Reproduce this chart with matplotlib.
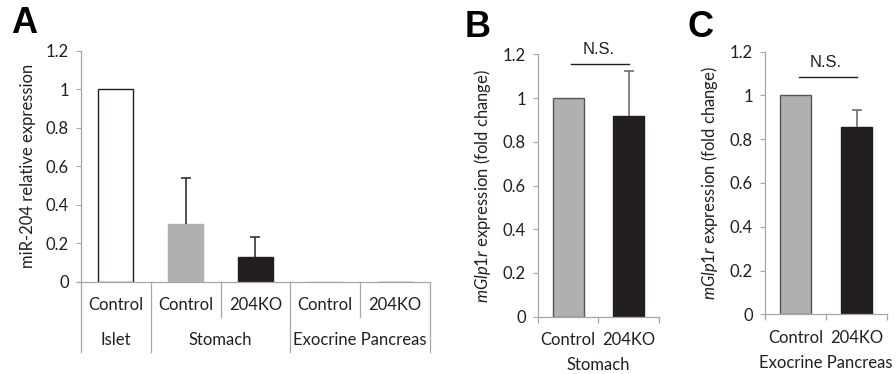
import matplotlib
matplotlib.use("Agg")
import matplotlib.pyplot as plt
import matplotlib.transforms as mtransforms

plt.rcParams['font.family'] = ['Lato', 'DejaVu Sans']
plt.rcParams['mathtext.fontset'] = 'custom'
plt.rcParams['mathtext.it'] = 'Lato:italic'
plt.rcParams['mathtext.rm'] = 'Lato'

# ---- data ----
a_groups = ["Islet", "Stomach", "Exocrine Pancreas"]
a_cats = ["Control", "Control", "204KO", "Control", "204KO"]
a_vals = [1.0, 0.30, 0.127, 0.001, 0.001]
a_errs = [0.0, 0.237, 0.107, 0.0, 0.0]

b_cats = ["Control", "204KO"]
b_vals = [1.0, 0.92]
b_errs = [0.0, 0.205]
b_group = "Stomach"
b_sig = 1.154

c_cats = ["Control", "204KO"]
c_vals = [1.0, 0.856]
c_errs = [0.0, 0.078]
c_group = "Exocrine Pancreas"
c_sig = 1.083

yticks = [0, 0.2, 0.4, 0.6, 0.8, 1.0, 1.2]
yticklabels = ["0", "0.2", "0.4", "0.6", "0.8", "1", "1.2"]

GRAY = "#b0b0b0"
BLACK = "#231f20"
SPINE = "#a6a6a6"
TXT = "#231f20"
FS = 12

fig = plt.figure(figsize=(8.96, 3.74), dpi=100)

def style_y(ax):
    ax.set_ylim(0, 1.2)
    ax.set_yticks(yticks)
    ax.set_yticklabels(yticklabels, fontsize=FS, color=TXT)
    ax.tick_params(axis='y', direction='out', length=3.6, width=0.8, color=SPINE, pad=5)
    for s in ['top', 'right']:
        ax.spines[s].set_visible(False)
    ax.spines['left'].set_color(SPINE)
    ax.spines['bottom'].set_color(SPINE)
    ax.spines['left'].set_linewidth(0.9)
    ax.spines['bottom'].set_linewidth(0.9)

def upper_err(ax, x, v, e, color):
    cont = ax.errorbar(x, v, yerr=[[0], [e]], fmt='none', ecolor=color,
                       elinewidth=1.2, capsize=3.5, capthick=1.2, zorder=3)
    caps = cont.lines[1]
    for cap in caps:
        yd = cap.get_ydata()
        if abs(yd[0] - v) < 1e-9:
            cap.set_visible(False)

# ---- Panel A ----
axA = fig.add_axes([0.0904, 0.2468, 0.3895, 0.6176])
style_y(axA)
xs = list(range(len(a_cats)))
colorsA = ["white", GRAY, BLACK, GRAY, BLACK]
edgesA = [BLACK, GRAY, BLACK, GRAY, BLACK]
axA.bar(xs, a_vals, width=0.5, color=colorsA, edgecolor=edgesA, linewidth=1.0, zorder=2)
for x, v, e in zip(xs, a_vals, a_errs):
    if e > 0:
        upper_err(axA, x, v, e, "#333333")
axA.set_xlim(-0.5, 4.5)
axA.set_xticks([])
axA.spines['bottom'].set_visible(False)
trA = mtransforms.blended_transform_factory(axA.transData, axA.transAxes)
axA.plot([-0.5, 4.5], [0, 0], color=SPINE, lw=0.9, transform=trA, clip_on=False)
axA.plot([-0.56, -0.5], [0, 0], color=SPINE, lw=0.9, transform=trA, clip_on=False)
long_b = [-0.5, 0.5, 2.5, 4.5]
short_b = [1.5, 3.5]
for b in long_b:
    axA.plot([b, b], [0, -0.304], color=SPINE, lw=0.9, transform=trA, clip_on=False)
for b in short_b:
    axA.plot([b, b], [0, -0.153], color=SPINE, lw=0.9, transform=trA, clip_on=False)
for x, c in zip(xs, a_cats):
    axA.text(x, -0.101, c, transform=trA, ha='center', va='center', fontsize=FS, color=TXT)
group_centers = [0, 1.5, 3.5]
for gx, g in zip(group_centers, a_groups):
    axA.text(gx, -0.253, g, transform=trA, ha='center', va='center', fontsize=FS, color=TXT)
axA.set_ylabel("miR-204 relative expression", fontsize=FS, color=TXT, labelpad=7)
fig.text(0.012, 0.937, "A", fontsize=26, fontweight='bold', family='Liberation Sans', va='center', ha='left')

# ---- Panels B, C ----
def small_panel(rect, cats, vals, errs, group, sig, letter, letter_pos):
    ax = fig.add_axes(rect)
    style_y(ax)
    x = [0, 1]
    ax.bar(x, vals, width=0.51, color=[GRAY, BLACK], edgecolor=["#555555", BLACK], linewidth=1.0, zorder=2)
    for xi, v, e in zip(x, vals, errs):
        if e > 0:
            upper_err(ax, xi, v, e, "#707070")
    ax.set_xlim(-0.5, 1.5)
    ax.set_xticks([-0.5, 0.5, 1.5], minor=False)
    ax.set_xticklabels(["", "", ""])
    ax.tick_params(axis='x', direction='out', length=4, width=0.9, color=SPINE)
    tr = mtransforms.blended_transform_factory(ax.transData, ax.transAxes)
    for xi, c in zip(x, cats):
        ax.text(xi, -0.09, c, transform=tr, ha='center', va='center', fontsize=FS, color=TXT)
    ax.text(0.5, -0.185, group, transform=tr, ha='center', va='center', fontsize=FS, color=TXT)
    ax.plot([0.05, 1.0], [sig, sig], color=BLACK, lw=1.0, clip_on=False)
    ax.text(0.5, sig + 0.035, "N.S.", ha='center', va='bottom', fontsize=FS,
            family='Liberation Sans', color=TXT)
    ax.set_ylabel(r"$\mathit{mGlp1r}$ expression (fold change)", fontsize=FS, color=TXT, labelpad=7)
    fig.text(letter_pos[0], letter_pos[1], letter, fontsize=26, fontweight='bold', family='Liberation Sans', va='center', ha='left')
    return ax

small_panel([0.6004, 0.1532, 0.1350, 0.7016], b_cats, b_vals, b_errs, b_group, b_sig, "B", (0.518, 0.927))
small_panel([0.8538, 0.1596, 0.1362, 0.7022], c_cats, c_vals, c_errs, c_group, c_sig, "C", (0.767, 0.927))

fig.savefig("out.png", dpi=100)
